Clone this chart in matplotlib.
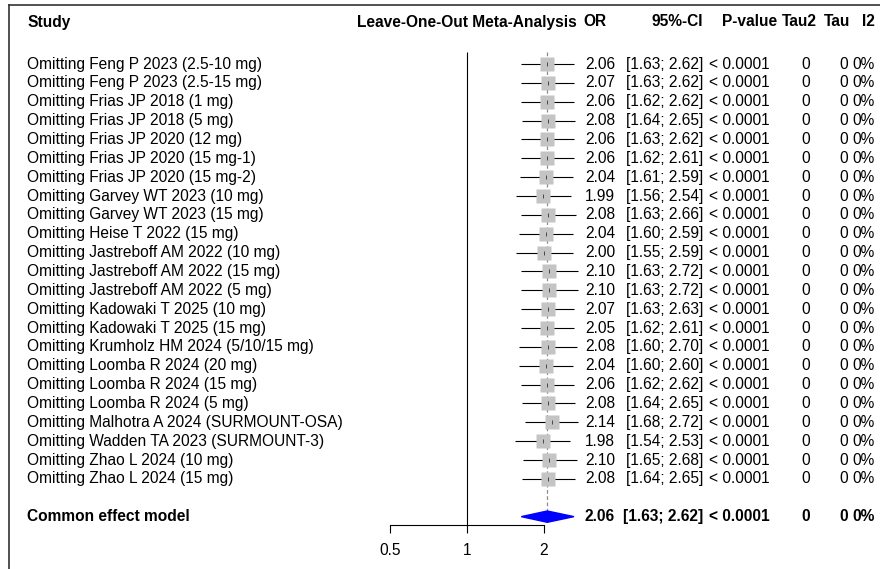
import matplotlib

matplotlib.use("Agg")
import matplotlib.pyplot as plt
import matplotlib.transforms as mtransforms
import numpy as np
from matplotlib.lines import Line2D
from matplotlib.patches import Polygon

studies = [
    "Feng P 2023 (2.5-10 mg)",
    "Feng P 2023 (2.5-15 mg)",
    "Frias JP 2018 (1 mg)",
    "Frias JP 2018 (5 mg)",
    "Frias JP 2020 (12 mg)",
    "Frias JP 2020 (15 mg-1)",
    "Frias JP 2020 (15 mg-2)",
    "Garvey WT 2023 (10 mg)",
    "Garvey WT 2023 (15 mg)",
    "Heise T 2022 (15 mg)",
    "Jastreboff AM 2022 (10 mg)",
    "Jastreboff AM 2022 (15 mg)",
    "Jastreboff AM 2022 (5 mg)",
    "Kadowaki T 2025 (10 mg)",
    "Kadowaki T 2025 (15 mg)",
    "Krumholz HM 2024 (5/10/15 mg)",
    "Loomba R 2024 (20 mg)",
    "Loomba R 2024 (15 mg)",
    "Loomba R 2024 (5 mg)",
    "Malhotra A 2024 (SURMOUNT-OSA)",
    "Wadden TA 2023 (SURMOUNT-3)",
    "Zhao L 2024 (10 mg)",
    "Zhao L 2024 (15 mg)",
]
odds = [2.06, 2.07, 2.06, 2.08, 2.06, 2.06, 2.04, 1.99, 2.08, 2.04, 2.00, 2.10,
        2.10, 2.07, 2.05, 2.08, 2.04, 2.06, 2.08, 2.14, 1.98, 2.10, 2.08]
lower = [1.63, 1.63, 1.62, 1.64, 1.63, 1.62, 1.61, 1.56, 1.63, 1.60, 1.55, 1.63,
         1.63, 1.63, 1.62, 1.60, 1.60, 1.62, 1.64, 1.68, 1.54, 1.65, 1.64]
upper = [2.62, 2.62, 2.62, 2.65, 2.62, 2.61, 2.59, 2.54, 2.66, 2.59, 2.59, 2.72,
         2.72, 2.63, 2.61, 2.70, 2.60, 2.62, 2.65, 2.72, 2.53, 2.68, 2.65]
pooled = (2.06, 1.63, 2.62)
pooled_p = "< 0.0001"
tau2, tau, i2 = "0", "0", "0%"
x_ticks = [0.5, 1, 2]

W, H = 880, 569
FS = 11.2
plt.rcParams.update({"font.family": ["Liberation Sans", "DejaVu Sans"], "font.size": FS})

fig = plt.figure(figsize=(W / 100, H / 100), dpi=100)

# forest panel: 0.5 at x=390 px, 2 at x=544 px; rows 64 px + 18.86 px each
row0, step = 64, 18.86
top_px, bot_px = 52, 525
ax = fig.add_axes([390 / W, 1 - bot_px / H, (544 - 390) / W, (bot_px - top_px) / H])
ax.set_xscale("log")
ax.set_xlim(0.5, 2)
ax.set_ylim((bot_px - row0) / step, (top_px - row0) / step)
ax.patch.set_visible(False)
for side in ("top", "right", "left"):
    ax.spines[side].set_visible(False)
ax.spines["bottom"].set_linewidth(0.8)
ax.set_yticks([])
ax.set_xticks(x_ticks, [str(t) for t in x_ticks])
ax.xaxis.set_minor_locator(matplotlib.ticker.NullLocator())
ax.tick_params(axis="x", direction="out", length=6, width=0.8, pad=7, labelsize=FS)

y = np.arange(len(studies))
ylo, yhi = ax.get_ylim()
ax.vlines(1, yhi, ylo, color="black", lw=0.8, clip_on=False)
ax.vlines(pooled[0], yhi, len(studies) + 1, color="#8c8c8c", lw=0.9,
          linestyles=(0, (3, 2)), clip_on=False, zorder=1)

ax.hlines(y, lower, upper, color="black", lw=0.8, clip_on=False, zorder=2)
ax.plot(odds, y, "s", ms=10.5, color="#c4c4c4", mec="none", clip_on=False, zorder=3)
ax.plot(odds, y, "|", ms=3, mew=0.6, color="#333333", clip_on=False, zorder=4)

yc = len(studies) + 1
dh = 0.3
ax.add_patch(Polygon([(pooled[1], yc), (pooled[0], yc - dh), (pooled[2], yc), (pooled[0], yc + dh)],
                     closed=True, color="blue", clip_on=False, zorder=5))

tr = mtransforms.blended_transform_factory(fig.transFigure, ax.transData)


def put(px, row, s, ha="left", bold=False):
    ax.text(px / W, row, s, transform=tr, ha=ha, va="center",
            fontweight="bold" if bold else "normal", fontsize=FS, clip_on=False)


hdr = (22 - row0) / step
put(27, hdr, "Study", bold=True)
put(577, hdr, "Leave-One-Out Meta-Analysis", ha="right", bold=True)
put(583, hdr, "OR", bold=True)
put(703, hdr, "95%-CI", ha="right", bold=True)
put(777, hdr, "P-value", ha="right", bold=True)
put(817, hdr, "Tau2", ha="right", bold=True)
put(850, hdr, "Tau", ha="right", bold=True)
put(862, hdr, "I2", bold=True)


def row_text(r, name, o, lo, hi, bold=False):
    put(27, r, name, bold=bold)
    put(615, r, f"{o:.2f}", ha="right", bold=bold)
    put(703, r, f"[{lo:.2f}; {hi:.2f}]", ha="right", bold=bold)
    put(770, r, pooled_p, ha="right", bold=bold)
    put(810, r, tau2, ha="right", bold=bold)
    put(848, r, tau, ha="right", bold=bold)
    put(852, r, i2, bold=bold)


for i, s in enumerate(studies):
    row_text(i, "Omitting " + s, odds[i], lower[i], upper[i])
row_text(yc, "Common effect model", *pooled, bold=True)

# frame around the plot region (cut at the right and bottom edges)
fig.add_artist(Line2D([9 / W, 9 / W], [0, 1 - 5 / H], color="#333333", lw=1.2))
fig.add_artist(Line2D([9 / W, 1], [1 - 5 / H, 1 - 5 / H], color="#333333", lw=1.2))

fig.savefig("out.png", dpi=100)
